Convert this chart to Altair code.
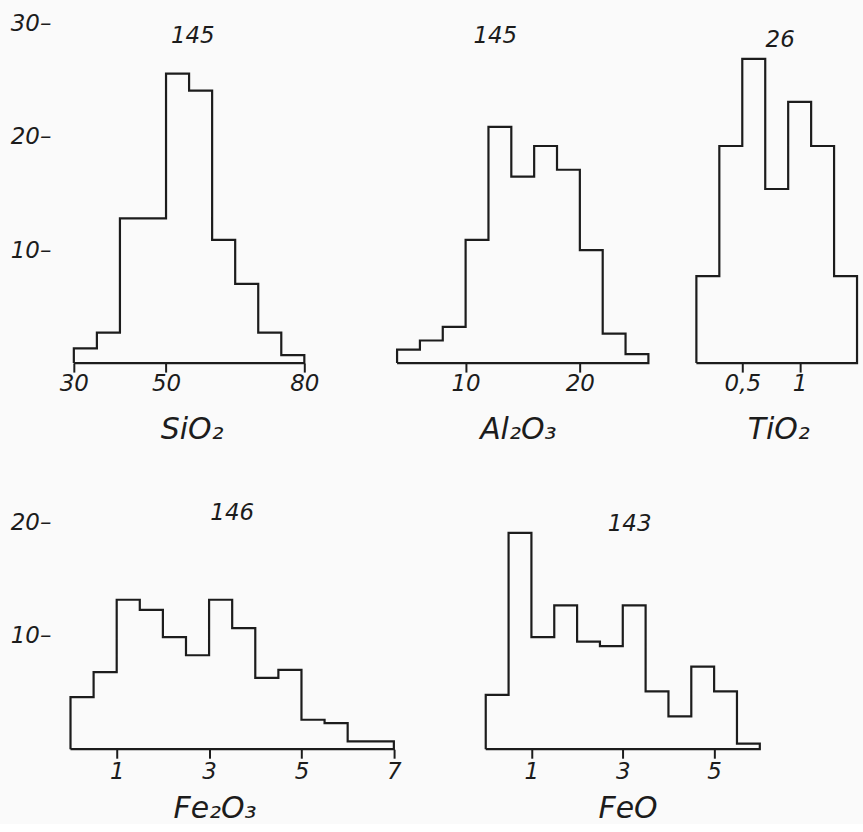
import altair as alt
import pandas as pd

INK = "#1c1c1c"
FONT = "DejaVu Sans"

# Relative frequency (%) of each class; edges are the class limits (wt.%)
sio2_edges = [30, 35, 40, 45, 50, 55, 60, 65, 70, 75, 80]
sio2_freq = [1.3, 2.7, 12.8, 12.8, 25.6, 24.1, 10.9, 7.0, 2.7, 0.7]

al2o3_edges = [4, 6, 8, 10, 12, 14, 16, 18, 20, 22, 24, 26]
al2o3_freq = [1.2, 2.0, 3.2, 10.9, 20.9, 16.5, 19.2, 17.1, 10.0, 2.6, 0.8]

tio2_edges = [0.1, 0.3, 0.5, 0.7, 0.9, 1.1, 1.3, 1.5]
tio2_freq = [7.7, 19.2, 26.9, 15.4, 23.1, 19.2, 7.7]

fe2o3_edges = [0, 0.5, 1, 1.5, 2, 2.5, 3, 3.5, 4, 4.5, 5, 5.5, 6, 7]
fe2o3_freq = [4.6, 6.8, 13.2, 12.3, 9.9, 8.3, 13.2, 10.7, 6.3, 7.0, 2.6, 2.3, 0.7]

feo_edges = [0, 0.5, 1, 1.5, 2, 2.5, 3, 3.5, 4, 4.5, 5, 5.5, 6]
feo_freq = [4.8, 19.1, 9.9, 12.7, 9.5, 9.1, 12.7, 5.1, 2.9, 7.3, 5.1, 0.5]

# number of analyses behind each histogram
sample_counts = [145, 145, 26, 146, 143]
oxides = ["SiO₂", "Al₂O₃", "TiO₂", "Fe₂O₃", "FeO"]
x_ticks = [[30, 50, 80], [10, 20], [0.5, 1], [1, 3, 5, 7], [1, 3, 5]]


def outline(edges, freq):
    """Envelope of a histogram: left riser, class tops, right riser, base."""
    xs = [edges[0]] + list(edges[:-1]) + [edges[-1], edges[0]]
    ys = [0] + list(freq) + [0, 0]
    return pd.DataFrame({"x": xs, "y": ys, "k": list(range(len(xs)))})


def panel(edges, freq, n, name, ticks, xdom, width, ymax, height,
          count_pos, title_x, label_pad, title_pad, y_values=None):
    x_enc = alt.X(
        "x:Q",
        scale=alt.Scale(domain=xdom, nice=False, zero=False),
        axis=alt.Axis(
            values=ticks,
            labelExpr="replace(toString(datum.value), '.', ',')",
            title=name, titleX=title_x, titleFont=FONT, titleFontSize=30,
            titleFontStyle="italic", titleFontWeight="normal", titleColor=INK,
            titlePadding=title_pad,
            labelFont=FONT, labelFontSize=23, labelFontStyle="italic",
            labelColor=INK, labelPadding=label_pad, labelFlush=False,
            domain=False, grid=False, ticks=True, tickSize=9,
            tickWidth=2, tickColor=INK,
        ),
    )
    if y_values is None:
        y_axis = None
    else:
        y_axis = alt.Axis(
            values=y_values, labelExpr="datum.label + '–'", title=None,
            domain=False, ticks=False, grid=False, labelFont=FONT,
            labelFontSize=23, labelFontStyle="italic", labelColor=INK,
            labelPadding=3,
        )
    y_enc = alt.Y("y:Q", scale=alt.Scale(domain=[0, ymax], nice=False),
                  axis=y_axis)

    hist = alt.Chart(outline(edges, freq)).mark_line(
        interpolate="step-after", color=INK, strokeWidth=2.2,
        strokeJoin="miter",
    ).encode(x=x_enc, y=y_enc, order="k:Q")

    count = alt.Chart(
        pd.DataFrame({"x": [count_pos[0]], "y": [count_pos[1]], "n": [str(n)]})
    ).mark_text(
        font=FONT, fontSize=23, fontStyle="italic", color=INK,
        baseline="middle", align="center",
    ).encode(x=x_enc, y=y_enc, text="n:N")

    return alt.layer(hist, count).properties(width=width, height=height)


p_sio2 = panel(sio2_edges, sio2_freq, sample_counts[0], oxides[0], x_ticks[0],
               [25.67, 88.0], 288, 30, 340, (55.8, 28.9), 138, 0, 20,
               [10, 20, 30])
p_al2o3 = panel(al2o3_edges, al2o3_freq, sample_counts[1], oxides[1],
                x_ticks[1], [-0.89, 27.93], 330, 30, 340, (12.6, 28.9), 177,
                0, 20)
p_tio2 = panel(tio2_edges, tio2_freq, sample_counts[2], oxides[2], x_ticks[2],
               [-0.126, 1.552], 193, 30, 340, (0.83, 28.6), 108, 0, 20)
p_fe2o3 = panel(fe2o3_edges, fe2o3_freq, sample_counts[3], oxides[3],
                x_ticks[3], [-0.36, 8.02], 388, 20, 227, (3.5, 20.9), 161,
                2, 10, [10, 20])
p_feo = panel(feo_edges, feo_freq, sample_counts[4], oxides[4], x_ticks[4],
              [-0.98, 7.32], 380, 20, 227, (3.15, 19.9), 187, 2, 10)

top = alt.hconcat(p_sio2, p_al2o3, p_tio2, spacing=0)
bottom = alt.hconcat(p_fe2o3, p_feo, spacing=0)

chart = (
    alt.vconcat(top, bottom, spacing=56)
    .properties(padding={"left": 10, "top": 12, "right": 0, "bottom": 0},
                background="#fafafa")
    .configure_view(stroke=None)
)

chart.save("out.html", embed_options={"renderer": "svg", "actions": False})
